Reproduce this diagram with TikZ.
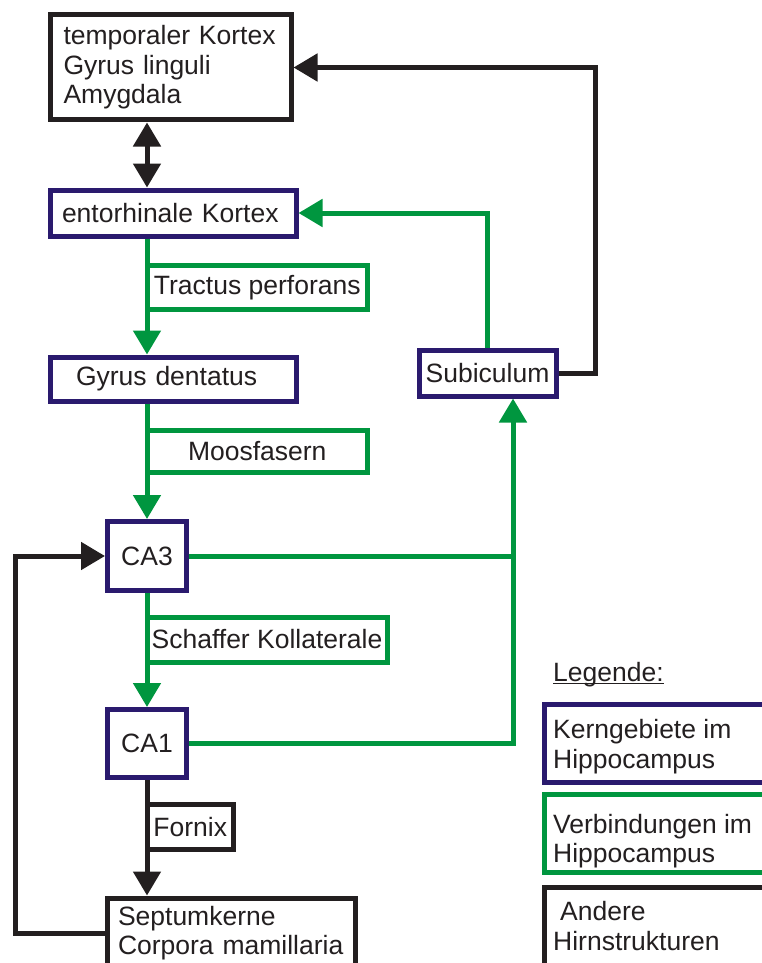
\documentclass[tikz,border=0pt]{standalone}
\usepackage{fontspec}
\setmainfont{Liberation Sans}
\usetikzlibrary{arrows.meta}
\definecolor{hblue}{HTML}{2A1A6E}
\definecolor{hgreen}{HTML}{00963F}
\definecolor{hblack}{HTML}{231F20}
\begin{document}
\begin{tikzpicture}[x=1pt,y=-1pt,
  every node/.style={font=\fontsize{26.5}{29.5}\selectfont, text=hblack},
  box/.style={draw, line width=5pt, fill=white, inner sep=0pt},
  kern/.style={box, draw=hblue},
  verb/.style={box, draw=hgreen},
  andr/.style={box, draw=hblack},
  txt/.style={anchor=north west, inner sep=0pt, align=left},
  gline/.style={draw=hgreen, line width=5pt},
  kline/.style={draw=hblack, line width=5pt},
  tip/.style={-{Triangle[length=24pt,width=27pt]}},
  dtip/.style={{Triangle[length=24pt,width=27pt]}-{Triangle[length=24pt,width=27pt]}},
]
\useasboundingbox (0,0) rectangle (762,963);
\clip (0,0) rectangle (762,963);

% main boxes
\node[andr, minimum width=241pt, minimum height=105pt, text width=214pt, align=left] (temp) at (170.5,67.5) {temporaler Kortex\\Gyrus linguli\\Amygdala};
\node[kern, minimum width=246pt, minimum height=46pt, text width=222pt, align=left] (ento) at (173,213) {entorhinale Kortex};
\node[kern, minimum width=246pt, minimum height=44pt, text width=194pt, align=left] (gyrus) at (173,379) {Gyrus dentatus};
\node[kern, minimum width=137pt, minimum height=46pt] (subic) at (487.5,373) {Subiculum};
\node[kern, minimum width=79pt, minimum height=69pt] (ca3) at (147,556) {CA3};
\node[kern, minimum width=79pt, minimum height=68pt] (ca1) at (147,743.5) {CA1};
\node[andr, minimum width=248pt, minimum height=70pt, text width=226pt, align=left] (sept) at (231,933) {Septumkerne\\Corpora mamillaria};

% connectors
\coordinate (spine) at (147,0);
\coordinate (lx) at (15,740);
\coordinate (jx) at (513,556);
\coordinate (rx) at (595,200);
\draw[kline, dtip] (temp.south -| spine) -- (ento.north -| spine);
\draw[gline, tip] (ento.south -| spine) -- (gyrus.north -| spine);
\draw[gline, tip] (gyrus.south -| spine) -- (ca3.north);
\draw[gline, tip] (ca3.south) -- (ca1.north);
\draw[kline, tip] (ca1.south) -- (sept.north -| ca1);
\draw[kline, tip] (sept.west) -| (lx) |- (ca3.west);
\draw[gline] (ca3.east) -- (jx);
\draw[gline, tip] (ca1.east) -| (subic.south -| jx);
\draw[gline, tip] (subic.north) |- (ento.east);
\draw[kline, tip] (subic.east) -| (rx) |- (temp.east);

% connector labels
\node[verb, minimum width=220.5pt, minimum height=44pt] (tract) at (257.25,287.5) {Tractus perforans};
\node[verb, minimum width=220.5pt, minimum height=42pt] (moos) at (257.25,451.5) {Moosfasern};
\node[verb, minimum width=240pt, minimum height=45pt] (schaf) at (267,639.5) {Schaffer Kollaterale};
\node[andr, minimum width=86.5pt, minimum height=44.5pt] (fornix) at (190.25,827) {Fornix};

% legend
\node[anchor=base west, inner sep=0pt] (legtitle) at (553,681) {Legende:};
\draw[hblack, line width=1.5pt] ([yshift=-2.5pt]legtitle.base west) -- ([yshift=-2.5pt]legtitle.base east);
\node[kern, minimum width=260pt, minimum height=78.5pt] (legk) at (674,743.25) {};
\node[txt] (legkt) at (553,719.5) {Kerngebiete im\\Hippocampus};
\node[verb, minimum width=260pt, minimum height=78pt] (legv) at (674,833.5) {};
\node[txt] (legvt) at (553,814) {Verbindungen im\\Hippocampus};
\node[andr, minimum width=260pt, minimum height=90pt] (lega) at (674,932.5) {};
\node[txt] (legat) at (553,901.5) {\hspace*{7pt}Andere\\Hirnstrukturen};
\end{tikzpicture}
\end{document}
